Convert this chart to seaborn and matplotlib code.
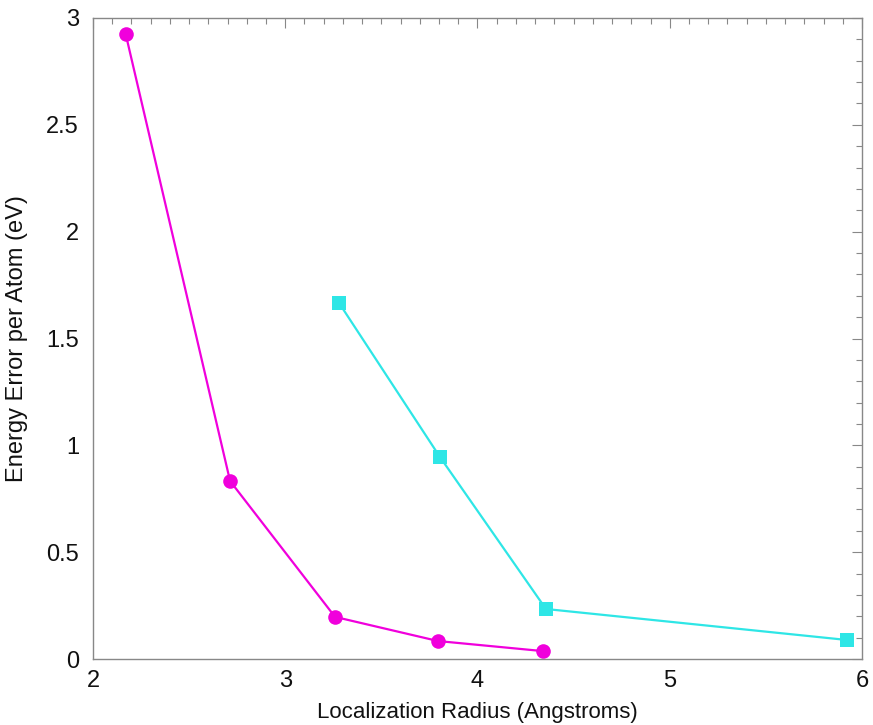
import matplotlib
matplotlib.use("Agg")
import matplotlib.pyplot as plt
import seaborn as sns
import pandas as pd
from matplotlib.ticker import MultipleLocator, FuncFormatter

# Data
x_circle = [2.17, 2.713, 3.259, 3.795, 4.34]
y_circle = [2.925, 0.833, 0.197, 0.084, 0.037]
x_square = [3.28, 3.805, 4.356, 5.922]
y_square = [1.666, 0.945, 0.234, 0.089]

sns.set_theme(style="white")
plt.rcParams['font.family'] = ['Liberation Sans', 'DejaVu Sans']

df_c = pd.DataFrame({"x": x_circle, "y": y_circle})
df_s = pd.DataFrame({"x": x_square, "y": y_square})

fig = plt.figure(figsize=(8.73, 7.25), dpi=100)
ax = fig.add_axes([93/873, 1-659/725, (862-93)/873, (659-18)/725])

magenta = "#f000dc"
cyan = "#2ee6e6"
sns.lineplot(data=df_c, x="x", y="y", ax=ax, sort=False, color=magenta,
             linewidth=1.6, marker="o", markersize=10.5, markeredgewidth=0,
             markeredgecolor=magenta)
sns.lineplot(data=df_s, x="x", y="y", ax=ax, sort=False, color=cyan,
             linewidth=1.6, marker="s", markersize=9.5, markeredgewidth=0,
             markeredgecolor=cyan)

ax.set_xlim(2, 6)
ax.set_ylim(0, 3)
ax.xaxis.set_major_locator(MultipleLocator(1))
ax.xaxis.set_minor_locator(MultipleLocator(0.1))
ax.yaxis.set_major_locator(MultipleLocator(0.5))
ax.yaxis.set_minor_locator(MultipleLocator(0.1))
ax.xaxis.set_major_formatter(FuncFormatter(lambda v, p: f"{v:g}"))
ax.yaxis.set_major_formatter(FuncFormatter(lambda v, p: f"{v:g}"))

grey = "#888888"
for s in ax.spines.values():
    s.set_color(grey)
    s.set_linewidth(1.0)
ax.tick_params(which="both", direction="in", top=True, right=True,
               color=grey, width=0.8)
ax.tick_params(which="major", length=7, labelsize=17, labelcolor="#111111")
ax.tick_params(axis="x", which="major", pad=8)
ax.tick_params(axis="y", which="major", pad=10)
ax.tick_params(which="minor", length=4)

ax.set_xlabel("Localization Radius (Angstroms)", fontsize=16, color="#111111", labelpad=7)
ax.set_ylabel("Energy Error per Atom (eV)", fontsize=17, color="#111111", labelpad=13)

fig.savefig("out.png", dpi=100)
